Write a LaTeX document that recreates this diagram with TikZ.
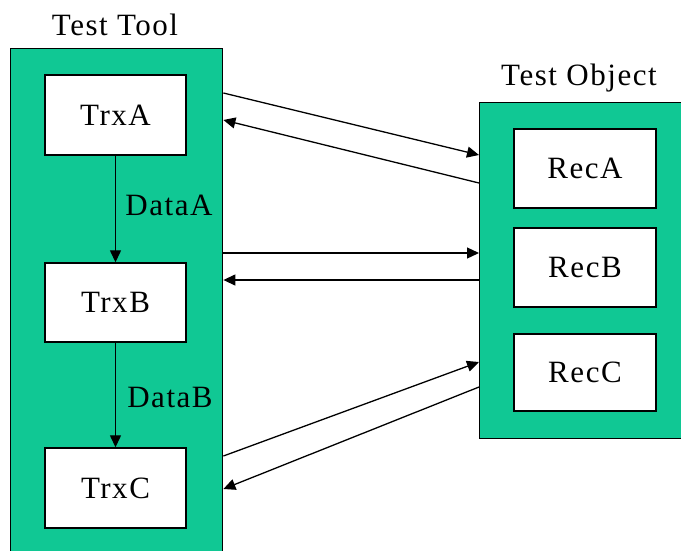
\documentclass[tikz,border=0pt]{standalone}
\usepackage{fontspec}
\setmainfont{Liberation Serif}[LetterSpace=5]
\usetikzlibrary{arrows.meta,calc}
\definecolor{teal}{RGB}{16,200,148}
\begin{document}
\begin{tikzpicture}[x=1pt,y=-1pt,
  every node/.style={font=\fontsize{31}{36}\selectfont, inner sep=0pt},
  group/.style={draw=black, line width=1.4pt, fill=teal, anchor=north west},
  box/.style={draw=black, line width=1.4pt, fill=white, minimum width=141pt},
  conn/.style={line width=1.3pt, -{Triangle[length=12pt,width=11pt]}}]
\useasboundingbox (0,0) rectangle (681,550);
\fill[white] (0,0) rectangle (681,550);
% groups
\node[group, minimum width=212pt, minimum height=522pt] (tool) at (10,48) {};
\node[group, minimum width=221pt, minimum height=336pt] (obj) at (479,102) {};
\node (tooltitle) at (115,25) {Test Tool};
\node (objtitle) at (579,78) {Test Object};
% boxes
\node[box, minimum height=80pt] (TrxA) at (115.5,115) {TrxA};
\node[box, minimum height=79pt] (TrxB) at (115.5,302.5) {TrxB};
\node[box, minimum height=80pt] (TrxC) at (115.5,488) {TrxC};
\node[box, minimum height=79pt, minimum width=142pt] (RecA) at (585,168.5) {RecA};
\node[box, minimum height=79pt, minimum width=142pt] (RecB) at (585,267.5) {RecB};
\node[box, minimum height=77pt, minimum width=142pt] (RecC) at (585,372.5) {RecC};
% internal arrows
\draw[conn] (TrxA) -- (TrxB);
\draw[conn] (TrxB) -- (TrxC);
\node (dataA) at (169,205) {DataA};
\node (dataB) at (170,397) {DataB};
% cross arrows
\draw[conn] ($(tool.north east)+(0,45)$) -- ($(obj.north west)+(0,53)$);
\draw[conn] ($(obj.north west)+(0,81)$) -- ($(tool.north east)+(0,72)$);
\draw[conn] ($(tool.north east)+(0,205)$) -- ($(obj.north west)+(0,151)$);
\draw[conn] ($(obj.north west)+(0,178)$) -- ($(tool.north east)+(0,232)$);
\draw[conn] ($(tool.north east)+(0,408)$) -- ($(obj.north west)+(0,260)$);
\draw[conn] ($(obj.north west)+(0,285)$) -- ($(tool.north east)+(0,441)$);
\end{tikzpicture}
\end{document}
